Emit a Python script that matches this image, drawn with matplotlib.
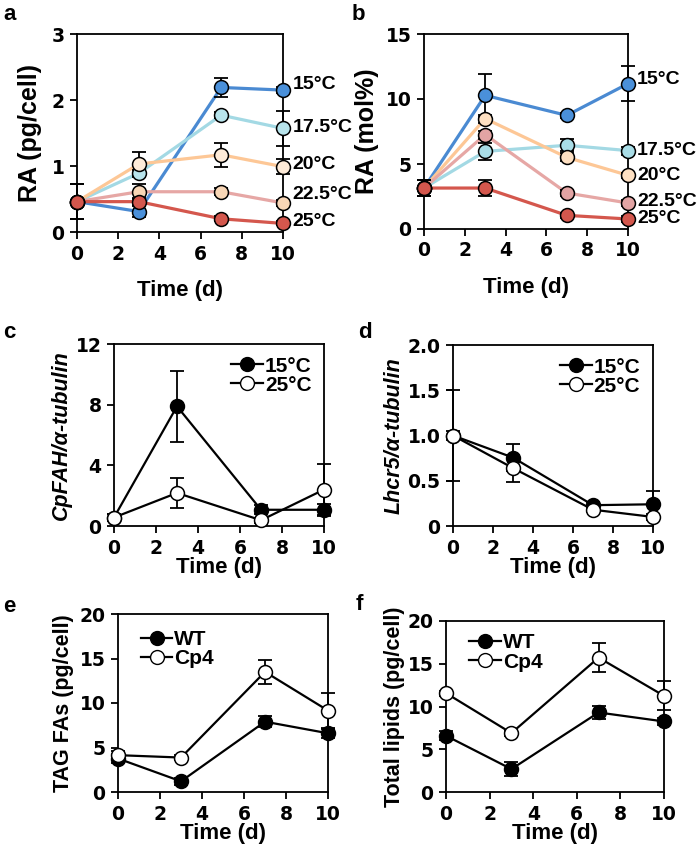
import matplotlib
matplotlib.use('Agg')
import matplotlib.pyplot as plt
from matplotlib.lines import Line2D

plt.rcParams['font.family'] = ['Liberation Sans', 'DejaVu Sans']
plt.rcParams['font.weight'] = 'bold'
plt.rcParams['axes.labelweight'] = 'bold'

days = [0, 3, 7, 10]
temps = ['15°C', '17.5°C', '20°C', '22.5°C', '25°C']

# panel a: RA (pg/cell)
ra_cell = [[0.46, 0.31, 2.19, 2.15],
           [0.46, 0.89, 1.77, 1.57],
           [0.46, 1.03, 1.17, 0.99],
           [0.46, 0.61, 0.61, 0.44],
           [0.46, 0.46, 0.20, 0.13]]
ra_cell_err = [[0.26, 0.09, 0.14, 0.04],
               [0.0, 0.05, 0.05, 0.27],
               [0.0, 0.18, 0.18, 0.11],
               [0.0, 0.11, 0.05, 0.05],
               [0.26, 0.05, 0.04, 0.03]]
ra_cell_lab_y = [2.24, 1.58, 1.02, 0.57, 0.16]

# panel b: RA (mol%)
ra_mol = [[3.15, 10.28, 8.74, 11.18],
          [3.15, 5.97, 6.44, 6.03],
          [3.15, 8.49, 5.51, 4.13],
          [3.15, 7.26, 2.77, 2.00],
          [3.15, 3.15, 1.05, 0.77]]
ra_mol_err = [[0.6, 1.65, 0.2, 1.35],
              [0.0, 0.65, 0.45, 0.3],
              [0.0, 0.3, 0.3, 0.2],
              [0.0, 0.3, 0.2, 0.2],
              [0.6, 0.6, 0.2, 0.2]]
ra_mol_lab_y = [11.5, 6.03, 4.13, 2.15, 0.8]

# panel c, d: expression
cpfah_15 = [0.56, 7.89, 1.07, 1.07]
cpfah_15_err = [0.2, 2.35, 0.3, 0.4]
cpfah_25 = [0.56, 2.18, 0.38, 2.4]
cpfah_25_err = [0.2, 1.0, 0.15, 1.7]
lhcr5_15 = [1.0, 0.756, 0.23, 0.24]
lhcr5_15_err = [0.05, 0.15, 0.03, 0.15]
lhcr5_25 = [1.0, 0.64, 0.18, 0.10]
lhcr5_25_err = [0.5, 0.15, 0.03, 0.03]

# panel e, f: lipids
tag_wt = [3.76, 1.2, 7.9, 6.6]
tag_wt_err = [0.5, 0.4, 0.6, 0.5]
tag_cp4 = [4.14, 3.87, 13.5, 9.15]
tag_cp4_err = [0.5, 0.3, 1.35, 2.0]
tot_wt = [6.58, 2.68, 9.3, 8.25]
tot_wt_err = [0.5, 0.8, 0.8, 0.4]
tot_cp4 = [11.56, 6.89, 15.72, 11.25]
tot_cp4_err = [0.3, 0.3, 1.7, 1.7]

line_cols = ['#4A8AD2', '#A3D9E4', '#FDC796', '#E6A7A5', '#D4574D']
face_a = ['#4A90DA', '#B8E4EC', '#FEEBD8', '#F8D6B6', '#D4574D']
face_b = ['#4A90DA', '#A9DDE7', '#FEE0C2', '#E2A4A4', '#D4574D']

W, H = 697, 857
fig = plt.figure(figsize=(W / 100, H / 100), dpi=100)


def make_ax(l, r, t, b):
    return fig.add_axes([l / W, 1 - b / H, (r - l) / W, (b - t) / H])


def style(ax, ylim, yticks, yticklabels=None):
    tick_font = dict(family='DejaVu Sans', weight='bold', size=13.5)
    ax.set_xlim(0, 10)
    ax.set_ylim(*ylim)
    ax.set_xticks(range(0, 11, 2), [str(v) for v in range(0, 11, 2)], fontdict=tick_font)
    if yticklabels is None:
        yticklabels = [str(v) for v in yticks]
    ax.set_yticks(yticks, yticklabels, fontdict=tick_font)
    ax.tick_params(direction='out', length=5, width=1.3,
                   top=False, right=False, pad=4)
    for s in ax.spines.values():
        s.set_linewidth(1.3)


def temp_panel(ax, vals, errs, faces, lab_y):
    for i in range(5):
        ax.plot(days, vals[i], '-', color=line_cols[i], lw=2.3, zorder=2)
    for i in range(5):
        ax.errorbar(days, vals[i], yerr=errs[i], fmt='none', ecolor='black',
                    elinewidth=1.3, capsize=5, capthick=1.3, zorder=3, clip_on=False)
    for i in range(5):
        ax.plot(days, vals[i], 'o', ms=10, mfc=faces[i], mec='black', mew=1.1,
                zorder=4, clip_on=False)
        ax.text(10.45, lab_y[i], temps[i], fontsize=14, va='center', ha='left',
                fontweight='bold')


def pair_panel(ax, v1, e1, v2, e2):
    ax.plot(days, v1, '-', color='black', lw=1.6, zorder=2)
    ax.plot(days, v2, '-', color='black', lw=1.6, zorder=2)
    ax.errorbar(days, v1, yerr=e1, fmt='none', ecolor='black', elinewidth=1.3,
                capsize=5, capthick=1.3, zorder=3, clip_on=False)
    ax.errorbar(days, v2, yerr=e2, fmt='none', ecolor='black', elinewidth=1.3,
                capsize=5, capthick=1.3, zorder=3, clip_on=False)
    ax.plot(days, v1, 'o', ms=10, mfc='black', mec='black', mew=1.1, zorder=4, clip_on=False)
    ax.plot(days, v2, 'o', ms=10, mfc='white', mec='black', mew=1.1, zorder=5, clip_on=False)


def pair_legend(ax, names, loc, anchor):
    h = [Line2D([], [], color='black', lw=1.6, marker='o', ms=10, mfc='black', mec='black'),
         Line2D([], [], color='black', lw=1.6, marker='o', ms=10, mfc='white', mec='black')]
    ax.legend(h, names, loc=loc, bbox_to_anchor=anchor, frameon=False,
              prop={'size': 15, 'weight': 'bold'},
              handlelength=1.5, handletextpad=0.1, labelspacing=0.0, borderaxespad=0.2)


# a
ax = make_ax(77, 283, 34, 232)
temp_panel(ax, ra_cell, ra_cell_err, face_a, ra_cell_lab_y)
style(ax, (0, 3), [0, 1, 2, 3])
ax.set_ylabel('RA (pg/cell)', fontsize=18, labelpad=7)
ax.set_xlabel('Time (d)', fontsize=16, labelpad=12)

# b
ax = make_ax(424, 628, 34, 229)
temp_panel(ax, ra_mol, ra_mol_err, face_b, ra_mol_lab_y)
style(ax, (0, 15), [0, 5, 10, 15])
ax.set_ylabel('RA (mol%)', fontsize=18, labelpad=5)
ax.set_xlabel('Time (d)', fontsize=16, labelpad=12)

# c
ax = make_ax(114, 324, 344, 526)
pair_panel(ax, cpfah_15, cpfah_15_err, cpfah_25, cpfah_25_err)
style(ax, (0, 12), [0, 4, 8, 12])
ax.set_ylabel('CpFAH/α-tubulin', fontsize=15.5, style='italic', labelpad=3)
ax.set_xlabel('Time (d)', fontsize=16, labelpad=0)
pair_legend(ax, ['15°C', '25°C'], 'upper right', (1.0, 1.0))

# d
ax = make_ax(453, 653, 345, 526)
pair_panel(ax, lhcr5_15, lhcr5_15_err, lhcr5_25, lhcr5_25_err)
style(ax, (0, 2), [0, 0.5, 1.0, 1.5, 2.0], ['0', '0.5', '1.0', '1.5', '2.0'])
ax.set_ylabel('Lhcr5/α-tubulin', fontsize=15.5, style='italic', labelpad=2)
ax.set_xlabel('Time (d)', fontsize=16, labelpad=0)
pair_legend(ax, ['15°C', '25°C'], 'upper right', (1.0, 1.0))

# e
ax = make_ax(118, 328, 614, 792)
pair_panel(ax, tag_wt, tag_wt_err, tag_cp4, tag_cp4_err)
style(ax, (0, 20), [0, 5, 10, 15, 20])
ax.set_ylabel('TAG FAs (pg/cell)', fontsize=15.5, labelpad=4)
ax.set_xlabel('Time (d)', fontsize=16, labelpad=0)
pair_legend(ax, ['WT', 'Cp4'], 'upper left', (0.05, 0.98))

# f
ax = make_ax(446, 664, 621, 792)
pair_panel(ax, tot_wt, tot_wt_err, tot_cp4, tot_cp4_err)
style(ax, (0, 20), [0, 5, 10, 15, 20])
ax.set_ylabel('Total lipids (pg/cell)', fontsize=15.5, labelpad=2)
ax.set_xlabel('Time (d)', fontsize=16, labelpad=0)
pair_legend(ax, ['WT', 'Cp4'], 'upper left', (0.05, 1.0))

for lab, x, y in [('a', 3, 15), ('b', 352, 15), ('c', 3, 332), ('d', 358, 332),
                  ('e', 3, 607), ('f', 356, 605)]:
    fig.text(x / W, 1 - y / H, lab, fontsize=16, ha='left', va='center', fontweight='bold')

fig.savefig('out.png', dpi=100)
